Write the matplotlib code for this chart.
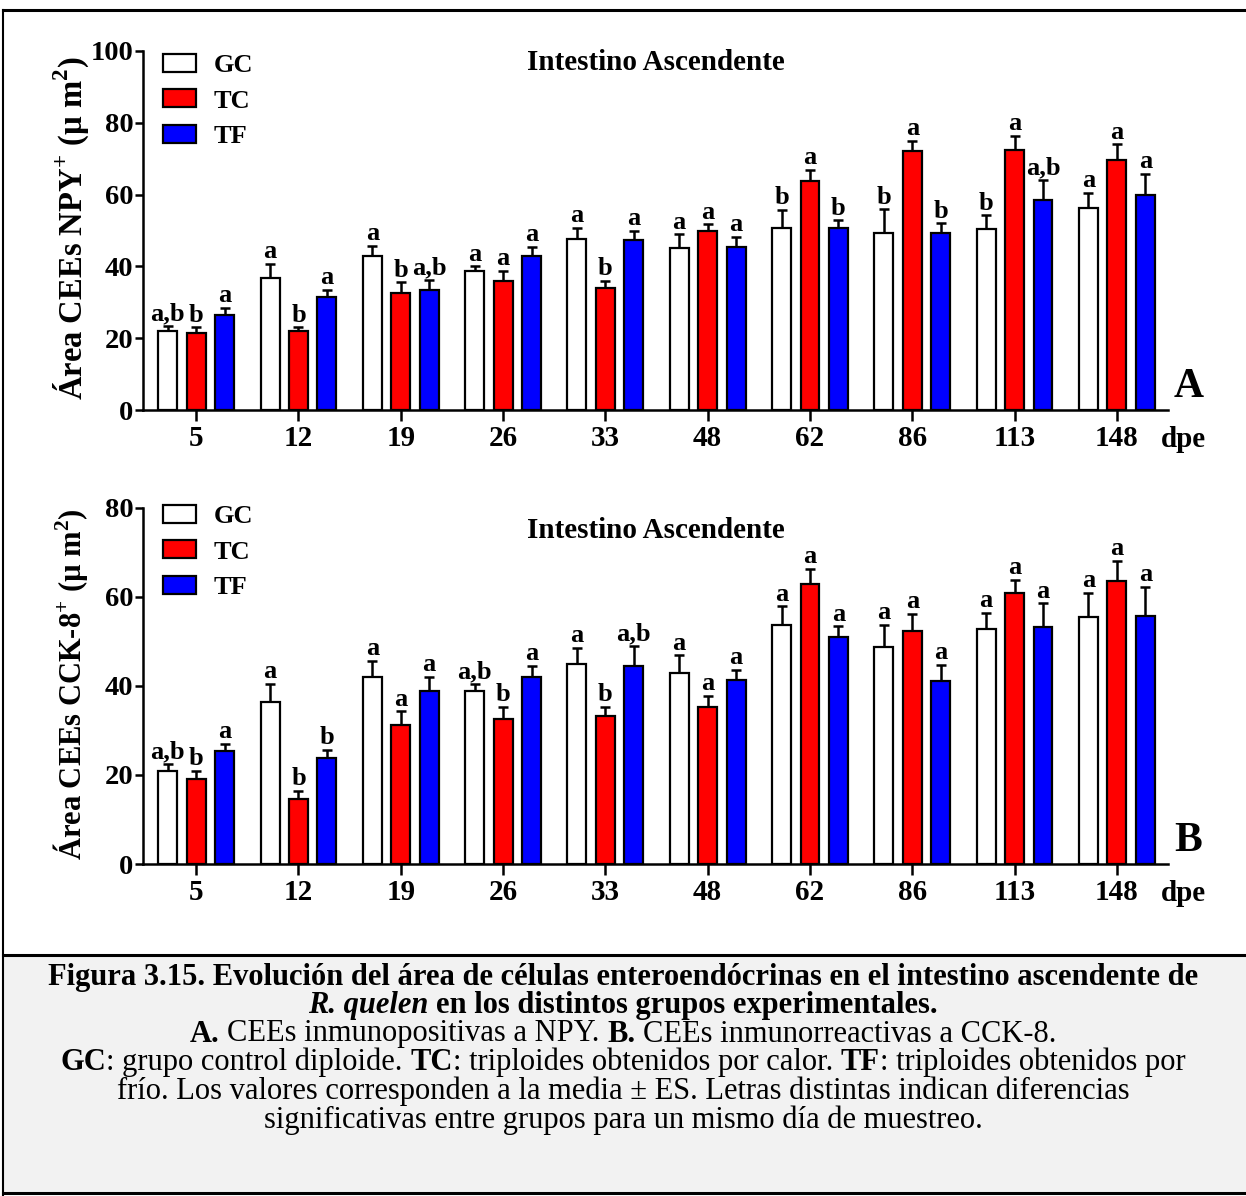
import numpy as np
import matplotlib
matplotlib.use('Agg')
from matplotlib import pyplot as plt
from matplotlib.lines import Line2D
from matplotlib.patches import Rectangle

plt.rcParams['font.family'] = 'Liberation Serif'
plt.rcParams['mathtext.fontset'] = 'custom'
plt.rcParams['mathtext.rm'] = 'Liberation Serif'
plt.rcParams['mathtext.bf'] = 'Liberation Serif:bold'

# data
days = ['5', '12', '19', '26', '33', '48', '62', '86', '113', '148']
groups = ['GC', 'TC', 'TF']
colors = ['white', '#ff0000', '#0000ff']

# panel A: NPY
npy_gc = [22.1, 36.8, 42.8, 38.7, 47.6, 45.0, 50.7, 49.3, 50.5, 56.2]
npy_tc = [21.4, 22.1, 32.5, 35.8, 34.0, 50.0, 63.8, 72.1, 72.3, 69.5]
npy_tf = [26.6, 31.4, 33.5, 42.9, 47.4, 45.4, 50.7, 49.4, 58.4, 60.0]
npy_gc_err = [1.4, 3.9, 3.0, 1.3, 3.1, 3.9, 5.1, 6.6, 3.7, 4.2]
npy_tc_err = [1.6, 0.9, 3.1, 2.9, 1.9, 1.7, 3.1, 2.8, 4.0, 4.5]
npy_tf_err = [1.8, 2.1, 2.7, 2.5, 2.6, 2.9, 2.1, 2.6, 5.7, 5.8]
npy_gc_lab = ['a,b', 'a', 'a', 'a', 'a', 'a', 'b', 'b', 'b', 'a']
npy_tc_lab = ['b', 'b', 'b', 'a', 'b', 'a', 'a', 'a', 'a', 'a']
npy_tf_lab = ['a', 'a', 'a,b', 'a', 'a', 'a', 'b', 'b', 'a,b', 'a']

# panel B: CCK-8
cck_gc = [21.0, 36.5, 42.0, 38.9, 45.0, 43.0, 53.8, 48.7, 52.7, 55.6]
cck_tc = [19.0, 14.7, 31.3, 32.6, 33.3, 35.3, 62.9, 52.3, 60.9, 63.5]
cck_tf = [25.3, 23.8, 38.9, 42.0, 44.6, 41.3, 51.0, 41.1, 53.3, 55.7]
cck_gc_err = [1.5, 4.0, 3.6, 1.5, 3.6, 3.9, 4.1, 5.1, 3.7, 5.4]
cck_tc_err = [1.9, 1.8, 3.0, 2.7, 2.0, 2.5, 3.4, 3.9, 2.9, 4.7]
cck_tf_err = [1.7, 1.8, 3.1, 2.5, 4.3, 2.4, 2.4, 3.7, 5.3, 6.6]
cck_gc_lab = ['a,b', 'a', 'a', 'a,b', 'a', 'a', 'a', 'a', 'a', 'a']
cck_tc_lab = ['b', 'b', 'a', 'b', 'b', 'a', 'a', 'a', 'a', 'a']
cck_tf_lab = ['a', 'b', 'a', 'a', 'a,b', 'a', 'a', 'a', 'a', 'a']

# caption: (text, weight, style) pieces per line
caption = [
    [('Figura 3.15. Evolución del área de células enteroendócrinas en el intestino ascendente de', 'bold', 'normal')],
    [('R. quelen', 'bold', 'italic'), (' en los distintos grupos experimentales.', 'bold', 'normal')],
    [('A.', 'bold', 'normal'), (' CEEs inmunopositivas a NPY. ', 'normal', 'normal'),
     ('B.', 'bold', 'normal'), (' CEEs inmunorreactivas a CCK-8.', 'normal', 'normal')],
    [('GC', 'bold', 'normal'), (': grupo control diploide. ', 'normal', 'normal'),
     ('TC', 'bold', 'normal'), (': triploides obtenidos por calor. ', 'normal', 'normal'),
     ('TF', 'bold', 'normal'), (': triploides obtenidos por', 'normal', 'normal')],
    [('frío. Los valores corresponden a la media ± ES. Letras distintas indican diferencias', 'normal', 'normal')],
    [('significativas entre grupos para un mismo día de muestreo.', 'normal', 'normal')],
]
caption_y = [977, 1005, 1034, 1062, 1091, 1120]

W, H = 1246, 1196
fig = plt.figure(figsize=(W / 100, H / 100), dpi=100)


def px(x, y):
    return x / W, 1 - y / H


def panel(rect, vals, errs, labs, ymax, ylabel, ylab_size, letter, ylab_y, title_y):
    ax = fig.add_axes(rect)
    x = np.arange(len(days))
    for i in range(3):
        xi = x + (i - 1) * 0.278
        ax.bar(xi, vals[i], width=0.185, color=colors[i], edgecolor='black',
               linewidth=1.6, label=groups[i], zorder=3)
        ax.errorbar(xi, vals[i], yerr=[np.zeros(len(days)), errs[i]], fmt='none',
                    ecolor='black', elinewidth=1.8, capsize=3.6, capthick=1.8, zorder=2)
        for xx, v, e, s in zip(xi, vals[i], errs[i], labs[i]):
            ax.annotate(s, (xx, v + e), xytext=(0, 0.5), textcoords='offset points',
                        ha='center', va='bottom', fontsize=19, fontweight='bold')
    ax.set_xlim(-0.52, 9.5)
    ax.set_ylim(0, ymax)
    ax.set_yticks(np.arange(0, ymax + 1, 20))
    ax.set_xticks(x)
    ax.set_xticklabels(days)
    for s in ['top', 'right']:
        ax.spines[s].set_visible(False)
    for s in ['left', 'bottom']:
        ax.spines[s].set_linewidth(1.8)
    ax.tick_params(axis='y', length=6, width=1.8, labelsize=20.5, pad=1)
    ax.tick_params(axis='x', length=8, width=1.8, labelsize=21, pad=3)
    for t in ax.get_xticklabels() + ax.get_yticklabels():
        t.set_fontweight('bold')
    ax.set_title('Intestino Ascendente', fontsize=21, fontweight='bold', y=title_y)
    ax.text(1.02, 0.065, letter, transform=ax.transAxes, fontsize=30,
            fontweight='bold', ha='center', va='center')
    ax.text(1.015, -0.083, 'dpe', transform=ax.transAxes, fontsize=21,
            fontweight='bold', ha='center', va='center')
    fig.text(*px(71, ylab_y), ylabel, rotation=90, fontsize=ylab_size, fontweight='bold',
             ha='center', va='center')
    return ax


axA = panel([143 / W, 1 - 410 / H, 1025 / W, 359 / H],
            [npy_gc, npy_tc, npy_tf], [npy_gc_err, npy_tc_err, npy_tf_err],
            [npy_gc_lab, npy_tc_lab, npy_tf_lab], 100,
            r'Área CEEs NPY$^{\mathbf{+}}$ (µ m$^{\mathbf{2}}$)', 23.5, 'A', 228, 0.924)
axB = panel([143 / W, 1 - 864 / H, 1025 / W, 356 / H],
            [cck_gc, cck_tc, cck_tf], [cck_gc_err, cck_tc_err, cck_tf_err],
            [cck_gc_lab, cck_tc_lab, cck_tf_lab], 80,
            r'Área CEEs CCK-8$^{\mathbf{+}}$ (µ m$^{\mathbf{2}}$)', 22, 'B', 684, 0.893)

for ax, top in [(axA, 54), (axB, 505)]:
    ax.legend(loc='upper left', bbox_to_anchor=px(163, top),
              bbox_transform=fig.transFigure, frameon=False,
              prop={'weight': 'bold', 'size': 19},
              handlelength=1.25, handleheight=0.65, handletextpad=0.68,
              labelspacing=0.47, borderpad=0, borderaxespad=0)

# frame and caption box
fig.patches.append(Rectangle(px(3, 1193), (W - 3) / W, 238 / H, transform=fig.transFigure,
                             facecolor='#f2f2f2', edgecolor='none', zorder=0))
fig.lines.append(Line2D([3 / W, 3 / W], [0, 1 - 10 / H], transform=fig.transFigure,
                        color='black', lw=1.5))
fig.lines.append(Line2D([3 / W, 1], [1 - 10 / H, 1 - 10 / H], transform=fig.transFigure,
                        color='black', lw=2.2))
for yy in [955, 1193]:
    fig.lines.append(Line2D([3 / W, 1], [1 - yy / H] * 2, transform=fig.transFigure,
                            color='black', lw=2.2))

renderer = fig.canvas.get_renderer()
cap_size = 22


def text_w(s, weight, style):
    t = fig.text(0, 0, s, fontsize=cap_size, fontweight=weight, fontstyle=style)
    w = t.get_window_extent(renderer).width
    t.remove()
    return w


def advance(s, weight, style):
    return text_w('|' + s + '|', weight, style) - text_w('||', weight, style)


for pieces, yy in zip(caption, caption_y):
    total = sum(advance(s, w, st) for s, w, st in pieces)
    x = W / 2 - total / 2
    for s, w, st in pieces:
        lead = s[:len(s) - len(s.lstrip())]
        x0 = x + (advance(lead, w, st) if lead else 0)
        fig.text(*px(x0, yy), s.strip(), fontsize=cap_size, fontweight=w, fontstyle=st,
                 ha='left', va='center')
        x += advance(s, w, st)

fig.savefig('out.png', dpi=100)
